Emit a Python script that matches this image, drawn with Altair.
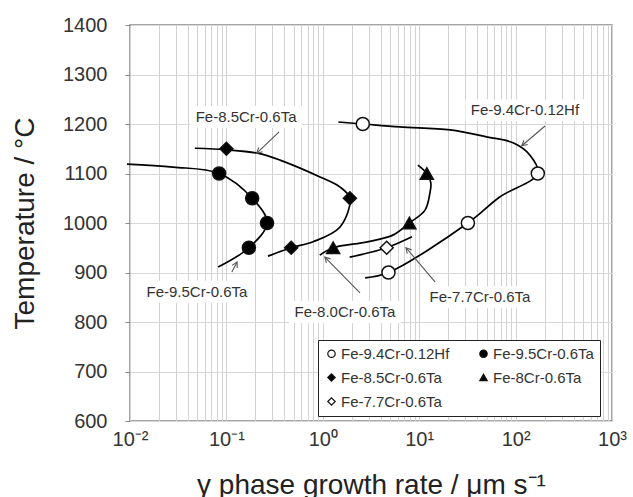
import math
import altair as alt
import pandas as pd

# ---------------- data ----------------
series = ["Fe-9.4Cr-0.12Hf", "Fe-9.5Cr-0.6Ta", "Fe-8.5Cr-0.6Ta", "Fe-8Cr-0.6Ta", "Fe-7.7Cr-0.6Ta"]
shapes = ["circle", "circle", "diamond", "triangle-up", "diamond"]
fills = ["white", "black", "black", "black", "white"]
strokes = ["#111", "#111", "#111", "#111", "#111"]

# measured points
hf_x = [2.6, 170, 32, 4.8]
hf_t = [1200, 1100, 1000, 900]
cr95_x = [0.084, 0.185, 0.264, 0.171]
cr95_t = [1100, 1050, 1000, 950]
cr85_x = [0.10, 1.91, 0.47]
cr85_t = [1150, 1050, 950]
cr8_x = [12.0, 7.9, 1.28]
cr8_t = [1100, 1000, 950]
cr77_x = [4.6]
cr77_t = [950]

# hand-drawn trend curves
c_hf_x = [1.45, 2.6, 6.3, 21, 50, 94, 141, 170, 69, 32, 4.8, 2.75]
c_hf_t = [1204, 1200, 1194, 1188, 1174, 1162, 1137, 1100, 1053, 1000, 900, 889]
c_95_x = [0.0093, 0.028, 0.084, 0.185, 0.264, 0.171, 0.082]
c_95_t = [1119, 1113, 1100, 1050, 1000, 950, 911]
c_85_x = [0.047, 0.10, 0.21, 0.36, 0.935, 1.5, 1.91, 1.51, 0.79, 0.47, 0.27]
c_85_t = [1151, 1148, 1141, 1127, 1093, 1073, 1050, 992, 962, 950, 933]
c_8_x = [9.7, 12.0, 13.2, 12.9, 11.5, 7.9, 5.4, 2.9, 1.28, 0.93]
c_8_t = [1117, 1100, 1081, 1060, 1026, 1000, 976, 962, 950, 935]
c_77_x = [1.9, 4.6, 8.4]
c_77_t = [931, 950, 972]

# annotation labels
label_text = ["Fe-8.5Cr-0.6Ta", "Fe-9.4Cr-0.12Hf", "Fe-9.5Cr-0.6Ta", "Fe-8.0Cr-0.6Ta", "Fe-7.7Cr-0.6Ta"]
label_x = [0.160, 125, 0.0495, 1.70, 42.7]
label_t = [1214, 1228, 861, 820, 850]

# annotation arrows: tail -> head
arrow_x1 = [0.352, 202, 0.114, 2.43, 14.6]
arrow_t1 = [1184, 1196, 901, 859, 881]
arrow_x2 = [0.207, 116, 0.129, 1.05, 7.3]
arrow_t2 = [1141, 1156, 921, 931, 950]

x_tick_values = [m * 10.0 ** e for e in range(-2, 3) for m in range(1, 10)] + [1000.0]
x_tick_labels = ["10⁻²", "10⁻¹", "10⁰", "10¹", "10²", "10³"]
y_tick_values = [600, 700, 800, 900, 1000, 1100, 1200, 1300, 1400]

# ---------------- layout ----------------
W, H = 482, 396
X_DEC = 5.0
PX_DEC = W / X_DEC
PX_DEG = H / 800.0
FONT = "Liberation Sans"

# ---------------- tables ----------------
pts = []
for name, xs_, ts in zip(series, [hf_x, cr95_x, cr85_x, cr8_x, cr77_x],
                         [hf_t, cr95_t, cr85_t, cr8_t, cr77_t]):
    for a, b in zip(xs_, ts):
        pts.append({"x": a, "t": b, "series": name})
pts = pd.DataFrame(pts)

curves = []
for name, xs_, ts in zip(series, [c_hf_x, c_95_x, c_85_x, c_8_x, c_77_x],
                         [c_hf_t, c_95_t, c_85_t, c_8_t, c_77_t]):
    for i, (a, b) in enumerate(zip(xs_, ts)):
        curves.append({"x": a, "t": b, "curve": name, "ord": i})
curves = pd.DataFrame(curves)

boxes = []
for s, lx, lt in zip(label_text, label_x, label_t):
    hw = (len(s) * 7.4 / 2 + 4) / PX_DEC
    hh = 11 / PX_DEG
    boxes.append({"label": s, "x": lx, "t": lt,
                  "xl": lx / 10 ** hw, "xr": lx * 10 ** hw,
                  "tb": lt - hh, "tt": lt + hh})
boxes = pd.DataFrame(boxes)

arrows = []
for a1, b1, a2, b2 in zip(arrow_x1, arrow_t1, arrow_x2, arrow_t2):
    dx = (math.log10(a2) - math.log10(a1)) * PX_DEC
    dy = -(b2 - b1) * PX_DEG
    ang = math.degrees(math.atan2(dx, -dy)) % 360
    arrows.append({"x": a1, "t": b1, "x2": a2, "t2": b2, "ang": ang})
arrows = pd.DataFrame(arrows)

# ---------------- scales & axes ----------------
xs = alt.Scale(type="log", domain=[0.01, 1000])
ys = alt.Scale(domain=[600, 1400])

lab_arr = "[" + ",".join("'%s'" % s for s in x_tick_labels) + "]"
lab_expr = ("abs(log(datum.value)/LN10 - round(log(datum.value)/LN10)) < 0.001 ? "
            + lab_arr + "[round(log(datum.value)/LN10)+2] : ''")

x_axis = alt.Axis(
    title="γ phase growth rate / μm s⁻¹", values=x_tick_values, labelExpr=lab_expr,
    grid=True, gridColor="#d2d2d2", gridWidth=1, ticks=False, domain=False,
    labelFont=FONT, labelFontSize=20, labelColor="#333", labelPadding=8,
    labelOverlap=False, labelFlush=False, labelBaseline="top",
    titleFont=FONT, titleFontSize=28, titleFontWeight="normal", titleColor="#222",
    titleX=W / 2, titleY=72, titleBaseline="alphabetic", titleAlign="center",
)
y_axis = alt.Axis(
    title="Temperature / °C", values=y_tick_values, format="d",
    grid=True, gridColor="#d8d8d8", gridWidth=1, ticks=True, tickSize=5, tickColor="#888",
    domain=False, labelFont=FONT, labelFontSize=20, labelColor="#333", labelPadding=18,
    labelFlush=False, labelOverlap=False,
    titleFont=FONT, titleFontSize=28, titleFontWeight="normal", titleColor="#222",
    titleX=-105, titleY=H / 2, titleAngle=270, titleBaseline="middle", titleAlign="center",
)


def X(field="x"):
    return alt.X(f"{field}:Q", scale=xs, axis=x_axis)


def Y(field="t"):
    return alt.Y(f"{field}:Q", scale=ys, axis=y_axis)


legend = alt.Legend(
    title=None, orient="none", legendX=188, legendY=315, columns=2, direction="horizontal",
    gridAlign="all", strokeColor="#222", fillColor="white", padding=6,
    labelFont=FONT, labelFontSize=15, labelColor="#333",
    symbolSize=55, symbolStrokeColor="#111", symbolStrokeWidth=1.2,
    symbolOpacity=1, columnPadding=26, rowPadding=8, labelOffset=2,
)

bg = alt.Chart(boxes).mark_rect(fill="white").encode(
    x=X("xl"), x2="xr:Q", y=Y("tb"), y2="tt:Q")

lines = alt.Chart(curves).mark_line(
    color="black", strokeWidth=1.7, interpolate="catmull-rom", clip=False
).encode(x=X(), y=Y(), detail="curve:N", order="ord:Q")

shafts = alt.Chart(arrows).mark_rule(color="#555", strokeWidth=1.1).encode(
    x=X(), y=Y(), x2="x2:Q", y2="t2:Q")

heads = alt.Chart(arrows).mark_point(
    shape="M-0.55,1L0,0L0.55,1", filled=False, stroke="#555", strokeWidth=1.1,
    size=110, opacity=1
).encode(x=X("x2"), y=Y("t2"), angle=alt.Angle("ang:Q", scale=None))

points = alt.Chart(pts).mark_point(
    size=170, strokeWidth=1.5, opacity=1, filled=True
).encode(
    x=X(), y=Y(),
    shape=alt.Shape("series:N", scale=alt.Scale(domain=series, range=shapes), legend=legend),
    fill=alt.Fill("series:N", scale=alt.Scale(domain=series, range=fills), legend=legend),
    stroke=alt.Stroke("series:N", scale=alt.Scale(domain=series, range=strokes), legend=legend),
)

texts = alt.Chart(boxes).mark_text(
    font=FONT, fontSize=15, color="#333", align="center", baseline="middle"
).encode(x=X(), y=Y(), text="label:N")

chart = alt.layer(bg, lines, shafts, heads, points, texts).properties(
    width=W, height=H,
    background="white",
    autosize=alt.AutoSizeParams(type="none"),
    padding={"left": 130, "top": 25, "right": 21, "bottom": 76},
).configure_view(
    stroke="#888", strokeWidth=1.5
)

chart.save("out.html", embed_options={"renderer": "svg", "actions": False})
